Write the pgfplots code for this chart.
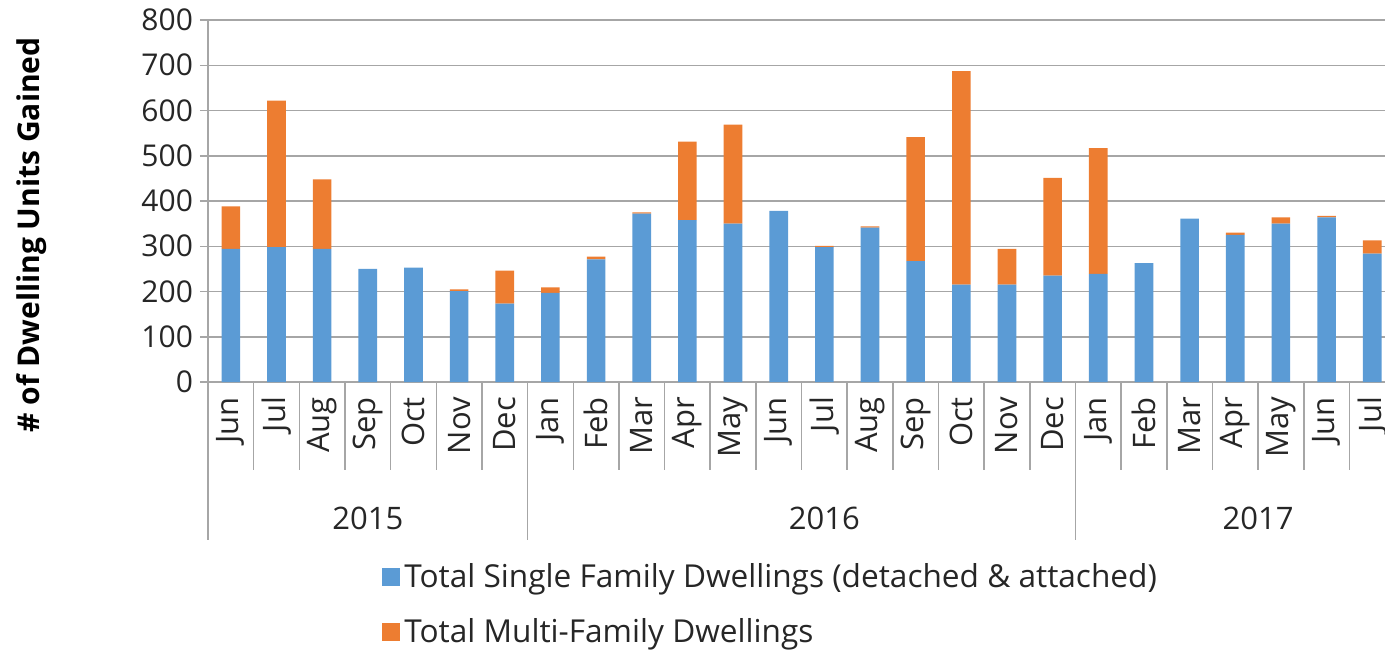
\documentclass[border=0pt]{standalone}
\usepackage{fontspec}
\setmainfont{Open Sans}
\usepackage{pgfplots}
\pgfplotsset{compat=1.18}
\definecolor{sfblue}{HTML}{5B9BD5}
\definecolor{mforange}{HTML}{ED7D31}
\definecolor{gridgray}{HTML}{A6A6A6}
\begin{document}
\begin{tikzpicture}
\clip (-104pt,-134pt) rectangle (588.5pt,191pt);
\begin{axis}[
  at={(0pt,0pt)}, anchor=south west,
  scale only axis, width=588.5pt, height=181pt,
  ybar stacked, bar width=9.3pt,
  xmin=-0.5, xmax=25.28, ymin=0, ymax=800,
  ytick={0,100,...,800},
  xtick={0,...,25},
  xticklabels={Jun,Jul,Aug,Sep,Oct,Nov,Dec,Jan,Feb,Mar,Apr,May,Jun,Jul,Aug,Sep,Oct,Nov,Dec,Jan,Feb,Mar,Apr,May,Jun,Jul},
  axis lines*=left,
  axis line style={gridgray, line width=0.75pt},
  ymajorgrids, grid style={gridgray, line width=0.75pt},
  tick align=outside, major tick length=4pt,
  ytick style={gridgray, line width=0.75pt},
  xtick style={draw=none},
  /pgf/number format/assume math mode=true,
  yticklabel style={font=\fontsize{15}{17}\selectfont, text=black!85},
  xticklabel style={rotate=90, anchor=east, font=\fontsize{15.5}{17}\selectfont, text=black!85},
  clip=false,
  legend style={draw=none, fill=none, at={(axis description cs:0.1478,-0.6146)}, anchor=west, inner sep=0pt, row sep=10pt, font=\fontsize{15.8}{18}\selectfont, text=black!85},
  legend cell align=left,
  legend image code/.code={\fill[#1] (-3.5pt,-4.5pt) rectangle (5.5pt,4.5pt);},
]
\addplot[fill=sfblue, draw=none] coordinates {
(0,294) (1,298) (2,294) (3,250) (4,253) (5,201) (6,173) (7,197) (8,271) (9,372) (10,358) (11,350) (12,378) (13,298) (14,341) (15,267) (16,215) (17,215) (18,235) (19,239) (20,263) (21,361) (22,325) (23,350) (24,364) (25,284)};
\addlegendentry{Total Single Family Dwellings (detached \& attached)}
\addplot[fill=mforange, draw=none] coordinates {
(0,94) (1,324) (2,154) (3,0) (4,0) (5,4) (6,73) (7,12) (8,6) (9,3) (10,173) (11,219) (12,0) (13,3) (14,3) (15,274) (16,472) (17,79) (18,216) (19,278) (20,0) (21,0) (22,5) (23,14) (24,3) (25,29)};
\addlegendentry{Total Multi-Family Dwellings}
\pgfplotsinvokeforeach{0.5,1.5,2.5,3.5,4.5,5.5,7.5,8.5,9.5,10.5,11.5,12.5,13.5,14.5,15.5,16.5,17.5,19.5,20.5,21.5,22.5,23.5,24.5}{
  \draw[gridgray, line width=0.75pt] (axis cs:#1,0) -- ++(0pt,-44pt);
}
\pgfplotsinvokeforeach{-0.5,6.5,18.5}{
  \draw[gridgray, line width=0.75pt] (axis cs:#1,0) -- ++(0pt,-79pt);
}
\node[font=\fontsize{15.5}{17}\selectfont, text=black!85] at (axis cs:3,0) [yshift=-68pt] {2015};
\node[font=\fontsize{15.5}{17}\selectfont, text=black!85] at (axis cs:13,0) [yshift=-68pt] {2016};
\node[font=\fontsize{15.5}{17}\selectfont, text=black!85] at (axis cs:22.5,0) [yshift=-68pt] {2017};
\end{axis}
\node[rotate=90, font=\bfseries\fontsize{15}{17}\selectfont] at (-88pt,73.5pt) {\# of Dwelling Units Gained};
\end{tikzpicture}
\end{document}
